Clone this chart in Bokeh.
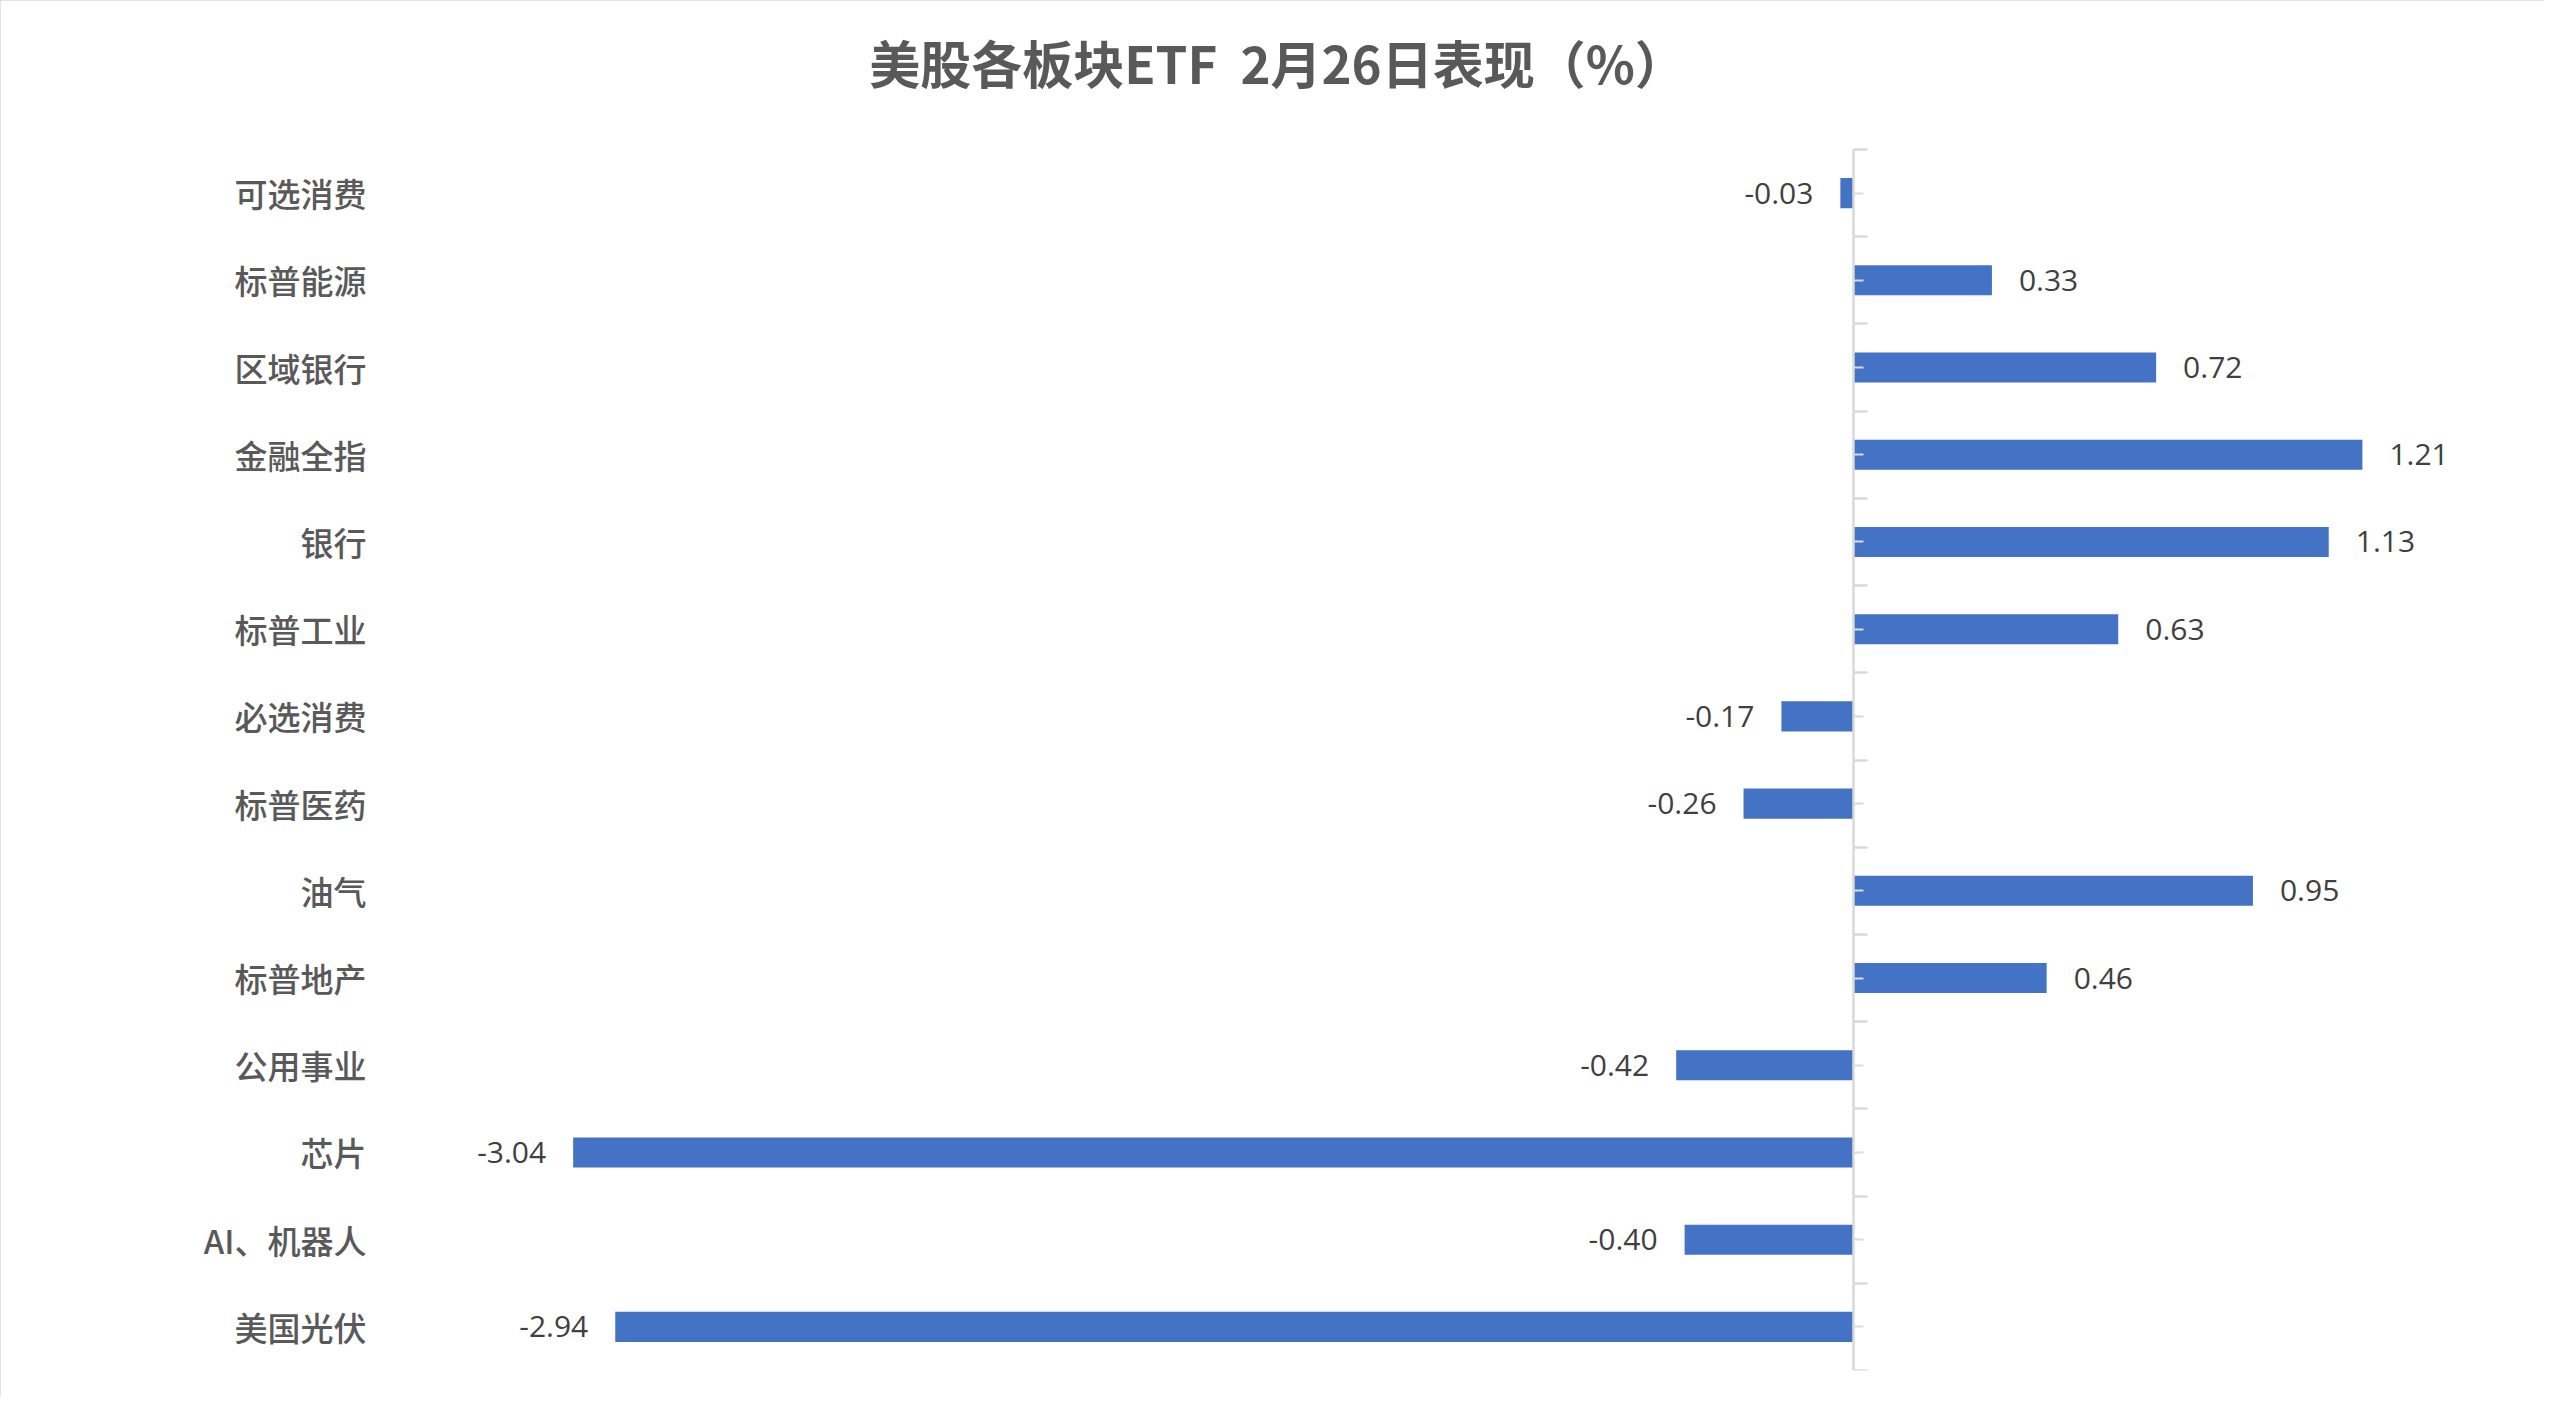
from bokeh.plotting import figure
from bokeh.models import (ColumnDataSource, Range1d, LinearAxis, FixedTicker, Label)
from bokeh.core.properties import value
from bokeh.embed import file_html
from bokeh.resources import INLINE

# ---- data (top to bottom as shown) ----
categories = ["可选消费", "标普能源", "区域银行", "金融全指", "银行", "标普工业",
              "必选消费", "标普医药", "油气", "标普地产", "公用事业", "芯片",
              "AI、机器人", "美国光伏"]
changes = [-0.03, 0.33, 0.72, 1.21, 1.13, 0.63, -0.17, -0.26, 0.95, 0.46,
           -0.42, -3.04, -0.40, -2.94]
title_text = "美股各板块ETF \u00a02月26日表现（%）"

BAR = "#4472C4"
AXIS_GRAY = "#D9D9D9"
TXT = "#595959"
LBL = "#404040"

n = len(categories)
ypos = [n - i - 0.5 for i in range(n)]   # category slot centres, top first

src = ColumnDataSource(dict(
    y=ypos,
    val=changes,
    label=[f"{v:.2f}" for v in changes],
    align=["left" if v >= 0 else "right" for v in changes],
    xoff=[27 if v >= 0 else -27 for v in changes],
))

# layout: category area 1221 px tall starting 149 px below the top;
# frame extended upward to hold the title
H, BOTTOM, CAT_TOP, CAT_H = 1396, 26, 149, 1221
TOP = 10
slot = CAT_H / n
y_top = n + (CAT_TOP - TOP) / slot

p = figure(width=2544, height=H, output_backend="svg", toolbar_location=None,
           y_range=Range1d(0, y_top), x_range=Range1d(-3.5, 1.5),
           x_axis_location=None, y_axis_location=None,
           min_border_left=379, min_border_right=60, min_border_top=TOP,
           min_border_bottom=BOTTOM, outline_line_color=None,
           background_fill_color="white", border_fill_color="white")
p.xgrid.visible = False
p.ygrid.visible = False

# chart title
title = Label(x=898, y=n + 1.0, x_units="screen", y_units="data",
              text=title_text, text_align="center", text_baseline="middle",
              text_font="Noto Sans CJK SC", text_font_size="51px",
              text_font_style="bold", text_color=TXT)
p.add_layout(title)

p.hbar(y="y", left=0, right="val", height=0.345, source=src,
       fill_color=BAR, line_color=None)

p.text(x="val", y="y", text="label", source=src, text_align="align",
       x_offset="xoff", text_baseline="middle", text_color=LBL,
       text_font=value("Open Sans"), text_font_size="30px")

# category labels at the left
cat_axis = LinearAxis(ticker=FixedTicker(ticks=ypos, minor_ticks=[]))
cat_axis.major_label_overrides = {float(y): c for y, c in zip(ypos, categories)}
cat_axis.axis_line_color = None
cat_axis.major_tick_line_color = None
cat_axis.minor_tick_line_color = None
cat_axis.major_label_text_font = "'Noto Sans CJK SC Medium', 'Noto Sans CJK SC'"
cat_axis.major_label_text_font_size = "33px"
cat_axis.major_label_text_color = TXT
cat_axis.major_label_standoff = 7
p.add_layout(cat_axis, "left")

# vertical zero axis with boundary / centre ticks
boundaries = list(range(n + 1))
zaxis = LinearAxis(fixed_location=0, bounds=(0, n),
                   ticker=FixedTicker(ticks=boundaries, minor_ticks=ypos))
zaxis.axis_line_color = AXIS_GRAY
zaxis.axis_line_width = 2.5
zaxis.major_tick_line_color = AXIS_GRAY
zaxis.major_tick_line_width = 2.5
zaxis.major_tick_in = 14
zaxis.major_tick_out = 0
zaxis.minor_tick_line_color = AXIS_GRAY
zaxis.minor_tick_line_width = 2
zaxis.minor_tick_in = 10
zaxis.minor_tick_out = 0
zaxis.major_label_text_color = None
zaxis.major_label_text_font_size = "1px"
p.add_layout(zaxis, "left")

p.styles = {"outline": "3px solid #D9D9D9", "outline-offset": "-3px"}

open("out.html", "w").write(file_html(p, INLINE))
